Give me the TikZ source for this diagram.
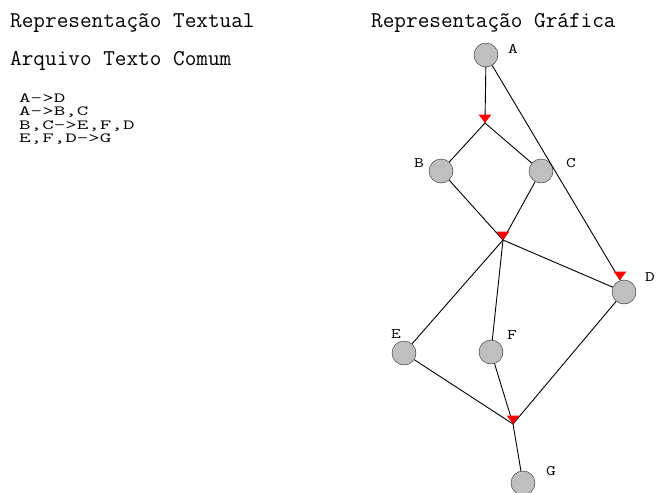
\documentclass[tikz,border=0pt]{standalone}
\usepackage{fontspec}
\usepackage{graphicx}
\usepackage{tikz}
\usetikzlibrary{calc, positioning}
\tikzset{
    auto,node distance =1.1 cm and 1.1 cm,
}
% wide, squat typewriter letters
\newcommand{\widett}[2]{\scalebox{#1}[1]{#2}}

\begin{document}
\begin{tikzpicture}
            [x=1pt,y=-1pt,
            vtx/.style={circle,draw=black!85,fill=black!25,minimum size=24pt,inner sep=0pt},
            lbl/.style={font=\ttfamily\fontsize{14.5}{16}\selectfont,inner sep=0pt},
            head/.style={font=\ttfamily\fontsize{22.6}{24}\selectfont,inner sep=0pt,anchor=base west},
            rule/.style={font=\ttfamily\fontsize{14}{14}\selectfont,inner sep=0pt,anchor=base west},
            edge/.style={draw=black,line width=0.9pt}]
            \clip (0,0) rectangle (657,493);
            \fill[white] (0,0) rectangle (657,493);
            % textual side
            \node[head] (tt) at (10,27) {Representação Textual};
            \node[head] (tf) at (10,65) {Arquivo Texto Comum};
            \node[rule] (r1) at (19,102) {\widett{1.6}{A->D}};
            \node[rule] (r2) at (19,115.5) {\widett{1.6}{A->B,C}};
            \node[rule] (r3) at (19,129) {\widett{1.6}{B,C->E,F,D}};
            \node[rule] (r4) at (19,142.5) {\widett{1.6}{E,F,D->G}};
            % graphic side
            \node[head] (tg) at (371,27) {Representação Gráfica};
            \coordinate (h1) at (485,123);
            \coordinate (h2) at (503,240);
            \coordinate (h3) at (513,424);
            \coordinate (hD) at (620,280);
            \node(A) [vtx] at (486,55) {};
            \node(B) [vtx] at (441,171) {};
            \node(C) [vtx] at (541,171) {};
            \node(D) [vtx] at (624,292) {};
            \node(E) [vtx] at (404,353) {};
            \node(F) [vtx] at (491,352) {};
            \node(G) [vtx] at (523,483) {};
            \node[lbl] (lA) at (513,49) {\widett{1.3}{A}};
            \node[lbl] (lB) at (419,163) {\widett{1.3}{B}};
            \node[lbl] (lC) at (571,163) {\widett{1.3}{C}};
            \node[lbl] (lD) at (650,277) {\widett{1.3}{D}};
            \node[lbl] (lE) at (396,334) {\widett{1.3}{E}};
            \node[lbl] (lF) at (512,335) {\widett{1.3}{F}};
            \node[lbl] (lG) at (551,471) {\widett{1.3}{G}};
            \draw[edge] (A) -- (h1);
            \draw[edge] (A) -- (hD);
            \draw[edge] (h1) -- (B);
            \draw[edge] (h1) -- (C);
            \draw[edge] (B) -- (h2);
            \draw[edge] (C) -- (h2);
            \draw[edge] (h2) -- (E);
            \draw[edge] (h2) -- (F);
            \draw[edge] (h2) -- (D);
            \draw[edge] (E) -- (h3);
            \draw[edge] (F) -- (h3);
            \draw[edge] (D) -- (h3);
            \draw[edge] (h3) -- (G);
            \foreach \h in {h1,h2,h3,hD}
                \fill[red] (\h) -- ++(-6.5,-8.5) -- ++(13,0) -- cycle;
        \end{tikzpicture}
\end{document}
